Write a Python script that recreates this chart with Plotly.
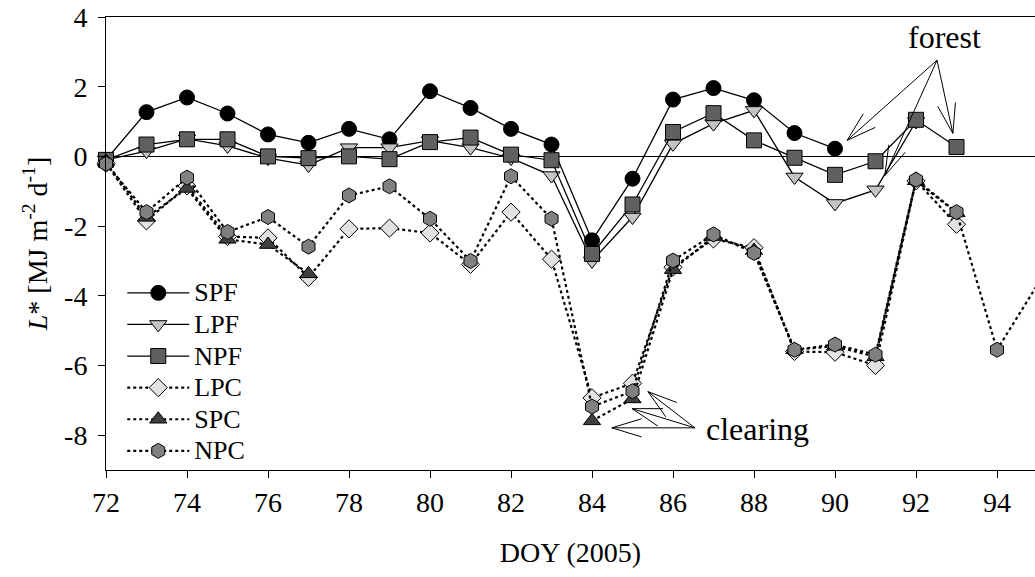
import math
import plotly.graph_objects as go

# ---------------- data ----------------
days = list(range(72, 96))

SPF = [-0.10, 1.27, 1.69, 1.23, 0.63, 0.39, 0.79, 0.49, 1.87, 1.39, 0.79, 0.34,
       -2.41, -0.64, 1.63, 1.96, 1.61, 0.67, 0.22, None, None, None, None, None]
LPF = [-0.10, 0.15, 0.50, 0.30, -0.05, -0.25, 0.25, 0.25, 0.45, 0.25, -0.05, -0.55,
       -3.00, -1.74, 0.36, 0.94, 1.32, -0.59, -1.35, -0.96, 1.00, None, None, None]
NPF = [-0.10, 0.34, 0.49, 0.49, 0.00, -0.05, 0.00, -0.08, 0.41, 0.54, 0.05, -0.11,
       -2.80, -1.38, 0.70, 1.24, 0.46, -0.04, -0.53, -0.14, 1.05, 0.27, None, None]
LPC = [-0.20, -1.85, -0.85, -2.30, -2.34, -3.47, -2.08, -2.06, -2.20, -3.10, -1.60, -2.95,
       -6.93, -6.51, -3.18, -2.37, -2.62, -5.60, -5.62, -6.00, -0.70, -1.95, None, None]
SPC = [-0.15, -1.75, -0.92, -2.38, -2.53, -3.37, None, None, None, None, None, None,
       -7.59, -6.96, -3.25, -2.30, -2.70, -5.55, -5.45, -5.75, -0.70, -1.62, None, None]
NPC = [-0.21, -1.60, -0.61, -2.17, -1.74, -2.59, -1.12, -0.86, -1.79, -3.00, -0.57, -1.79,
       -7.18, -6.74, -2.99, -2.24, -2.77, -5.55, -5.40, -5.69, -0.67, -1.60, -5.55, -3.68]

x_ticks = list(range(72, 96, 2))
y_ticks = [-8, -6, -4, -2, 0, 2, 4]
y_tick_labels = ["-8", "-6", "-4", "-2", "0", "2", "4"]

# ---------------- layout constants ----------------
W, H = 1035, 577
ML, MR, MT, MB = 106, 0, 17, 107
PX_PER_DAY = 40.5
X0 = 72
X1 = X0 + (W - ML - MR) / PX_PER_DAY
Y0, Y1 = -9, 4
SX = (W - ML - MR) / (X1 - X0)
SY = (H - MT - MB) / (Y1 - Y0)

FONT = "Liberation Serif, Times New Roman, serif"

series = [
    ("SPF", SPF, "circle", 15, "#000000", "solid"),
    ("LPF", LPF, "triangle-down", 15, "#c4c4c4", "solid"),
    ("NPF", NPF, "square", 15, "#606060", "solid"),
    ("LPC", LPC, "diamond", 14, "#e2e2e2", "dot"),
    ("SPC", SPC, "triangle-up", 15, "#404040", "dot"),
    ("NPC", NPC, "hexagon", 15, "#808080", "dot"),
]

fig = go.Figure()
for name, vals, sym, size, col, dash in series:
    fig.add_trace(go.Scatter(
        x=days, y=vals, name=f'<span style="font-size:26px">{name}</span>',
        mode="lines+markers",
        line=dict(color="black", width=1.3 if dash == "solid" else 2.2, dash=dash),
        marker=dict(symbol=sym, size=size, color=col,
                    line=dict(color="black", width=1)),
        connectgaps=False, cliponaxis=False,
    ))

# ---------------- annotation arrows (shapes) ----------------
shapes = []

def add_arrow(tail, tip, barb_len=31, barb_ang=17):
    line = dict(color="black", width=1)
    shapes.append(dict(type="line", xref="x", yref="y", x0=tail[0], y0=tail[1],
                       x1=tip[0], y1=tip[1], line=line))
    dx = (tail[0] - tip[0]) * SX
    dy = -(tail[1] - tip[1]) * SY
    n = math.hypot(dx, dy)
    ux, uy = dx / n, dy / n
    for s in (-1, 1):
        a = math.radians(s * barb_ang)
        bx = ux * math.cos(a) - uy * math.sin(a)
        by = ux * math.sin(a) + uy * math.cos(a)
        shapes.append(dict(type="line", xref="x", yref="y",
                           x0=tip[0], y0=tip[1],
                           x1=tip[0] + bx * barb_len / SX,
                           y1=tip[1] - by * barb_len / SY, line=line))

forest_tail = (92.52, 2.76)
for tip in [(90.30, 0.46), (91.23, -0.55), (92.91, 0.66)]:
    add_arrow(forest_tail, tip)

clear_tail = (86.54, -7.79)
for tip in [(84.49, -7.79), (84.99, -7.24), (85.38, -6.75)]:
    add_arrow(clear_tail, tip)

annotations = [
    dict(x=92.70, y=3.43, xref="x", yref="y", text="forest", showarrow=False,
         font=dict(family=FONT, size=32, color="black")),
    dict(x=88.08, y=-7.81, xref="x", yref="y", text="clearing", showarrow=False,
         font=dict(family=FONT, size=32, color="black")),
]

fig.update_layout(
    width=W, height=H,
    margin=dict(l=ML, r=MR, t=MT, b=MB, autoexpand=False),
    paper_bgcolor="white", plot_bgcolor="white",
    font=dict(family=FONT, color="black"),
    showlegend=True,
    legend=dict(x=0.0175, xanchor="left", y=0.437, yanchor="top",
                bgcolor="rgba(0,0,0,0)", borderwidth=0,
                font=dict(family=FONT, size=22, color="black"),
                itemwidth=62, traceorder="normal"),
    annotations=annotations,
    shapes=shapes,
    xaxis=dict(range=[X0, X1], tickvals=x_ticks, ticks="outside", ticklen=7,
               tickwidth=1, tickcolor="black", showline=True, linecolor="black",
               linewidth=1, mirror=True, showgrid=False, zeroline=False,
               automargin=False, ticklabeloverflow="allow",
               tickfont=dict(family=FONT, size=28),
               title=dict(text="DOY (2005)", font=dict(family=FONT, size=28), standoff=25)),
    yaxis=dict(range=[Y0, Y1], tickvals=y_ticks, ticktext=y_tick_labels,
               ticks="outside", ticklen=7,
               tickwidth=1, tickcolor="black", showline=True, linecolor="black",
               linewidth=1, showgrid=False, zeroline=True, zerolinecolor="black",
               zerolinewidth=1, automargin=False, ticklabelstandoff=5,
               ticklabeloverflow="allow",
               tickfont=dict(family=FONT, size=28),
               title=dict(text="<i>L</i>* [MJ m<sup>-2</sup> d<sup>-1</sup>]",
                          font=dict(family=FONT, size=28), standoff=8)),
)

fig.write_html(
    "out.html",
    config={"displayModeBar": False},
    post_script="document.body.style.margin='0';document.body.style.overflow='hidden';",
)
